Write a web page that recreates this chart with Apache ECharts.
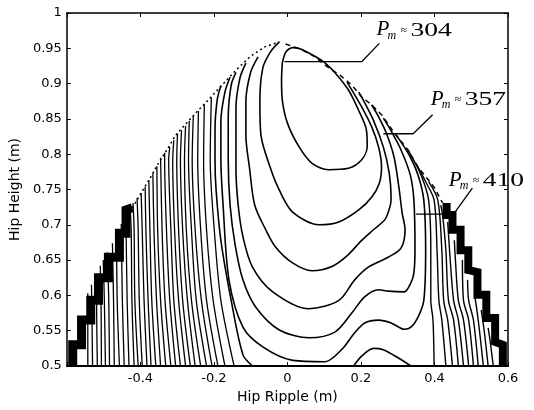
<!DOCTYPE html>
<html><head><meta charset="utf-8">
<script src="https://cdn.jsdelivr.net/npm/echarts@6/dist/echarts.min.js"></script>
<style>html,body{margin:0;padding:0;background:#fff}#c{width:534px;height:410px}</style>
</head><body><div id="c"></div>
<script>
// ---- data (Hip Ripple [m], Hip Height [m]) ----
const xRange = [-0.6, 0.6];
const yRange = [0.5, 1.0];
const innerLoop = [[-0.014,0.929],[-0.004,0.945],[0.014,0.951],[0.036,0.949],[0.077,0.938],[0.103,0.929],[0.130,0.915],[0.166,0.891],[0.193,0.863],[0.215,0.834],[0.217,0.811],[0.202,0.792],[0.166,0.780],[0.112,0.778],[0.067,0.787],[0.031,0.811],[0.000,0.844],[-0.014,0.877],[-0.016,0.905],[-0.014,0.929]];
const contour2 = [[-0.022,0.959],[-0.046,0.945],[-0.067,0.922],[-0.075,0.874],[-0.072,0.827],[-0.046,0.780],[-0.022,0.749],[0.014,0.718],[0.086,0.700],[0.140,0.704],[0.194,0.721],[0.229,0.739],[0.250,0.759],[0.256,0.782],[0.248,0.810],[0.229,0.839],[0.202,0.867],[0.175,0.891],[0.162,0.902]];
const contour3 = [[-0.080,0.938],[-0.100,0.916],[-0.113,0.874],[-0.113,0.827],[-0.103,0.780],[-0.089,0.728],[-0.059,0.693],[-0.033,0.669],[0.014,0.646],[0.067,0.635],[0.121,0.641],[0.162,0.656],[0.202,0.678],[0.234,0.693],[0.266,0.708],[0.280,0.728],[0.282,0.739],[0.277,0.773],[0.261,0.810],[0.234,0.848],[0.202,0.881],[0.194,0.888]];
const contour4 = [[-0.113,0.929],[-0.129,0.908],[-0.140,0.865],[-0.140,0.780],[-0.134,0.728],[-0.121,0.683],[-0.095,0.640],[-0.040,0.605],[0.059,0.581],[0.140,0.593],[0.183,0.622],[0.220,0.640],[0.274,0.654],[0.309,0.667],[0.320,0.693],[0.312,0.717],[0.303,0.754],[0.290,0.796],[0.269,0.830],[0.248,0.853],[0.229,0.870]];
const contour5 = [[-0.140,0.916],[-0.153,0.898],[-0.161,0.851],[-0.161,0.792],[-0.156,0.728],[-0.142,0.671],[-0.121,0.622],[-0.087,0.584],[-0.022,0.551],[0.059,0.540],[0.129,0.548],[0.175,0.575],[0.210,0.598],[0.248,0.608],[0.274,0.606],[0.318,0.605],[0.336,0.618],[0.344,0.632],[0.347,0.664],[0.344,0.735],[0.334,0.771],[0.309,0.806],[0.282,0.833],[0.261,0.851]];
const contour6 = [[-0.156,0.909],[-0.170,0.888],[-0.181,0.846],[-0.181,0.792],[-0.175,0.728],[-0.159,0.622],[-0.121,0.555],[-0.067,0.527],[0.014,0.508],[0.102,0.506],[0.147,0.523],[0.183,0.547],[0.210,0.561],[0.248,0.565],[0.282,0.561],[0.318,0.552],[0.336,0.555],[0.355,0.569],[0.371,0.593],[0.376,0.664],[0.371,0.735],[0.355,0.771],[0.331,0.799],[0.296,0.827]];
const contour7 = [[-0.181,0.897],[-0.191,0.877],[-0.197,0.834],[-0.197,0.792],[-0.194,0.749],[-0.181,0.678],[-0.153,0.593],[-0.121,0.516],[-0.095,0.500]];
const contour7Hump = [[0.180,0.500],[0.202,0.514],[0.234,0.525],[0.261,0.523],[0.303,0.511],[0.336,0.500]];
const rightContours = [
  [[0.399,0.5],[0.396,0.565],[0.390,0.593],[0.390,0.664],[0.384,0.735],[0.363,0.771],[0.328,0.806]],
  [[0.431,0.5],[0.420,0.565],[0.412,0.593],[0.407,0.664],[0.399,0.735],[0.376,0.761],[0.355,0.782]],
  [[0.449,0.5],[0.436,0.565],[0.425,0.593],[0.420,0.664],[0.409,0.735],[0.384,0.761]],
  [[0.465,0.5],[0.452,0.565],[0.438,0.593],[0.431,0.664],[0.422,0.714],[0.417,0.728]],
  [[0.479,0.5],[0.465,0.565],[0.452,0.593],[0.441,0.664],[0.436,0.704]],
  [[0.493,0.5],[0.479,0.565],[0.465,0.593],[0.457,0.650],[0.454,0.678]],
  [[0.506,0.5],[0.493,0.565],[0.479,0.593],[0.476,0.650]],
  [[0.519,0.5],[0.506,0.565],[0.493,0.593],[0.490,0.622]],
  [[0.533,0.5],[0.519,0.565],[0.509,0.601]],
  [[0.546,0.5],[0.535,0.551],[0.527,0.579]],
  [[0.560,0.5],[0.551,0.537],[0.546,0.554]]
];
const leftContours = [
  [[-0.543,0.5],[-0.543,0.603]],
  [[-0.530,0.5],[-0.533,0.615]],
  [[-0.517,0.5],[-0.519,0.593],[-0.519,0.630]],
  [[-0.506,0.5],[-0.507,0.593],[-0.509,0.642]],
  [[-0.495,0.5],[-0.498,0.593],[-0.501,0.650]],
  [[-0.484,0.5],[-0.486,0.593],[-0.490,0.661]],
  [[-0.471,0.5],[-0.473,0.593],[-0.476,0.674]],
  [[-0.457,0.5],[-0.463,0.593],[-0.465,0.686]],
  [[-0.444,0.5],[-0.449,0.593],[-0.452,0.701]],
  [[-0.431,0.5],[-0.436,0.593],[-0.439,0.693],[-0.441,0.715]],
  [[-0.417,0.5],[-0.423,0.593],[-0.425,0.693],[-0.428,0.725]],
  [[-0.406,0.5],[-0.415,0.593],[-0.417,0.693],[-0.420,0.731]],
  [[-0.395,0.5],[-0.403,0.593],[-0.406,0.693],[-0.409,0.738]],
  [[-0.382,0.5],[-0.390,0.593],[-0.395,0.693],[-0.398,0.745]],
  [[-0.371,0.5],[-0.379,0.593],[-0.385,0.693],[-0.387,0.754]],
  [[-0.358,0.5],[-0.369,0.593],[-0.374,0.693],[-0.377,0.763]],
  [[-0.345,0.5],[-0.356,0.593],[-0.363,0.693],[-0.366,0.773]],
  [[-0.331,0.5],[-0.345,0.593],[-0.353,0.693],[-0.355,0.783]],
  [[-0.317,0.5],[-0.333,0.593],[-0.341,0.693],[-0.345,0.795]],
  [[-0.304,0.5],[-0.320,0.593],[-0.329,0.693],[-0.334,0.792],[-0.334,0.802]],
  [[-0.291,0.5],[-0.309,0.593],[-0.317,0.693],[-0.323,0.792],[-0.320,0.810]],
  [[-0.277,0.5],[-0.296,0.593],[-0.307,0.693],[-0.312,0.792],[-0.309,0.820]],
  [[-0.264,0.5],[-0.285,0.593],[-0.296,0.693],[-0.301,0.792],[-0.299,0.829]],
  [[-0.251,0.5],[-0.272,0.593],[-0.285,0.693],[-0.291,0.792],[-0.288,0.834]],
  [[-0.236,0.5],[-0.261,0.593],[-0.275,0.693],[-0.280,0.792],[-0.277,0.840]],
  [[-0.220,0.5],[-0.248,0.593],[-0.261,0.693],[-0.269,0.792],[-0.267,0.847]],
  [[-0.205,0.5],[-0.234,0.593],[-0.251,0.693],[-0.259,0.792],[-0.256,0.854]],
  [[-0.189,0.5],[-0.220,0.593],[-0.236,0.693],[-0.244,0.792],[-0.242,0.861]],
  [[-0.170,0.5],[-0.202,0.593],[-0.220,0.693],[-0.228,0.792],[-0.226,0.870]],
  [[-0.145,0.5],[-0.181,0.593],[-0.199,0.693],[-0.210,0.792],[-0.207,0.880]]
];
const leftStairs = [[-0.584,0.5],[-0.584,0.530],[-0.560,0.530],[-0.560,0.565],[-0.535,0.565],[-0.535,0.593],[-0.514,0.593],[-0.514,0.625],[-0.487,0.625],[-0.487,0.654],[-0.457,0.654],[-0.457,0.688],[-0.439,0.688],[-0.439,0.721],[-0.422,0.724]];
const leftEdge = [[-0.422,0.724],[-0.398,0.745],[-0.377,0.763],[-0.350,0.788],[-0.328,0.806],[-0.304,0.827],[-0.250,0.858],[-0.215,0.877],[-0.183,0.895],[-0.140,0.919],[-0.102,0.938],[-0.062,0.952],[-0.022,0.959]];
const rightEdge = [[-0.005,0.956],[0.035,0.949],[0.075,0.938],[0.108,0.924],[0.143,0.912],[0.175,0.898],[0.202,0.881],[0.229,0.870],[0.256,0.856],[0.291,0.830],[0.328,0.806],[0.355,0.782],[0.398,0.754],[0.422,0.731]];
const rightStairs = [[0.433,0.731],[0.433,0.714],[0.449,0.714],[0.449,0.693],[0.471,0.693],[0.471,0.664],[0.492,0.664],[0.492,0.636],[0.517,0.633],[0.517,0.601],[0.541,0.601],[0.541,0.568],[0.565,0.568],[0.565,0.534],[0.586,0.530],[0.586,0.5]];
const annotValues = ['304', '357', '410'];
const annotTextAt = [[0.242,0.976],[0.390,0.878],[0.439,0.763]];
const annotLeaders = [
  [[-0.008,0.931],[0.202,0.931],[0.250,0.957]],
  [[0.261,0.829],[0.342,0.829],[0.395,0.856]],
  [[0.350,0.715],[0.452,0.715],[0.503,0.752]]
];

// ---- chart ----
const chart = echarts.init(document.getElementById('c'), null, {renderer: 'canvas'});
const FONT = '"DejaVu Sans", "Liberation Sans", Arial, sans-serif';
function ln(data, extra) {
  return Object.assign({type: 'line', data: data, symbol: 'none', silent: true, animation: false,
    smooth: 0.3, lineStyle: {color: '#000', width: 1.4}, z: 3}, extra || {});
}
const series = [];
[innerLoop, contour2, contour3, contour4, contour5, contour6, contour7, contour7Hump].forEach(d => series.push(ln(d, {lineStyle: {color: '#000', width: 1.6}})));
rightContours.forEach(d => series.push(ln(d)));
leftContours.forEach(d => series.push(ln(d, {lineStyle: {color: '#000', width: 1.3}})));
series.push(ln(leftStairs, {smooth: false, lineStyle: {color: '#000', width: 9, join: 'miter'}}));
series.push(ln(rightStairs, {smooth: false, lineStyle: {color: '#000', width: 8, join: 'miter'}}));
series.push(ln(leftEdge, {smooth: false, lineStyle: {color: '#000', width: 1.5, type: [2, 3]}}));
series.push(ln(rightEdge, {smooth: false, lineStyle: {color: '#000', width: 1.5, type: [5, 4]}}));
annotLeaders.forEach(d => series.push(ln(d, {smooth: false, clip: false, lineStyle: {color: '#000', width: 1.3}})));

const axisLineStyle = {color: '#000', width: 1.5};
const option = {
  backgroundColor: '#fff',
  animation: false,
  grid: {left: 62, right: 26, top: 13, bottom: 44},
  xAxis: [{
    type: 'value', min: xRange[0], max: xRange[1], interval: 0.2, position: 'bottom',
    name: 'Hip Ripple (m)', nameLocation: 'middle', nameGap: 24,
    nameTextStyle: {color: '#000', fontSize: 14, fontFamily: FONT},
    axisLine: {show: true, onZero: false, lineStyle: {color: '#000', width: 2}},
    axisTick: {show: true, inside: true, length: 4, lineStyle: {color: '#000'}},
    axisLabel: {color: '#000', fontSize: 13, fontFamily: FONT, margin: 6,
      formatter: v => (Math.abs(v - xRange[0]) < 1e-6 ? '' : String(Math.round(v * 10) / 10))},
    splitLine: {show: false}
  }, {
    type: 'value', min: xRange[0], max: xRange[1], interval: 0.2, position: 'top',
    axisLine: {show: true, onZero: false, lineStyle: axisLineStyle},
    axisTick: {show: true, inside: true, length: 4, lineStyle: {color: '#000'}},
    axisLabel: {show: false}, splitLine: {show: false}
  }],
  yAxis: [{
    type: 'value', min: yRange[0], max: yRange[1], interval: 0.05, position: 'left',
    name: 'Hip Height (m)', nameLocation: 'middle', nameGap: 38,
    nameTextStyle: {color: '#000', fontSize: 14, fontFamily: FONT},
    axisLine: {show: true, onZero: false, lineStyle: axisLineStyle},
    axisTick: {show: true, inside: true, length: 4, lineStyle: {color: '#000'}},
    axisLabel: {color: '#000', fontSize: 13, fontFamily: FONT, margin: 5,
      formatter: v => String(Math.round(v * 100) / 100)},
    splitLine: {show: false}
  }, {
    type: 'value', min: yRange[0], max: yRange[1], interval: 0.05, position: 'right',
    axisLine: {show: true, onZero: false, lineStyle: axisLineStyle},
    axisTick: {show: true, inside: true, length: 4, lineStyle: {color: '#000'}},
    axisLabel: {show: false}, splitLine: {show: false}
  }],
  series: series
};
chart.setOption(option);

// annotations placed from data coordinates
const SERIF = '"Liberation Serif", "Times New Roman", serif';
const graphics = annotValues.map((val, i) => {
  const p = chart.convertToPixel({xAxisIndex: 0, yAxisIndex: 0}, annotTextAt[i]);
  return {
    type: 'group', x: p[0], y: p[1], z: 100, silent: true,
    children: [
      {type: 'text', x: 0, y: 0, style: {text: 'P', font: 'italic 21px ' + SERIF, fill: '#000', textAlign: 'left', textVerticalAlign: 'middle', align: 'left', verticalAlign: 'middle'}},
      {type: 'text', x: 11, y: 6, style: {text: 'm', font: 'italic 12px ' + SERIF, fill: '#000', textAlign: 'left', textVerticalAlign: 'middle', align: 'left', verticalAlign: 'middle'}},
      {type: 'text', x: 24, y: 1, style: {text: '≈', font: '12px ' + SERIF, fill: '#000', textAlign: 'left', textVerticalAlign: 'middle', align: 'left', verticalAlign: 'middle'}},
      {type: 'text', x: 34, y: 1, scaleX: 1.45, style: {text: val, font: '19px ' + SERIF, fill: '#000', textAlign: 'left', textVerticalAlign: 'middle', align: 'left', verticalAlign: 'middle'}}
    ]
  };
});
chart.setOption({graphic: graphics});
</script>
</body></html>
